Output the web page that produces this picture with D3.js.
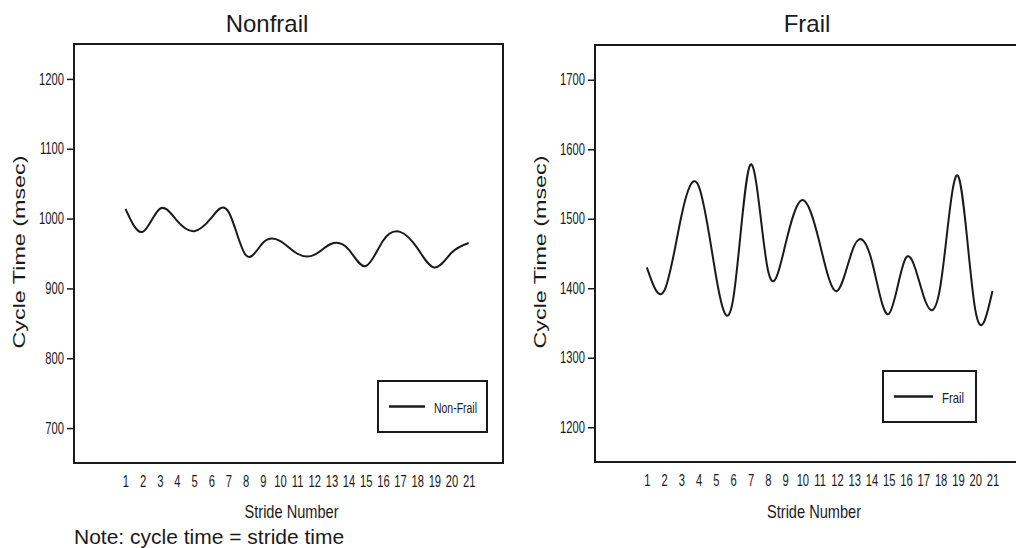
<!DOCTYPE html>
<html>
<head>
<meta charset="utf-8">
<script src="https://cdn.jsdelivr.net/npm/d3@7"></script>
<style>
  body { margin: 0; background: #fff; }
  svg { display: block; }
  text { font-family: "Liberation Sans", Arial, sans-serif; }
</style>
</head>
<body>
<svg id="chart" width="1016" height="548"></svg>
<script>
// stride numbers on the x axis
var strides = [1, 2, 3, 4, 5, 6, 7, 8, 9, 10, 11, 12, 13, 14, 15, 16, 17, 18, 19, 20, 21];

// cycle time (msec)
var nonfrailTimes = [1014, 981, 1014, 997, 982, 1001, 1010, 948, 965, 968, 950, 948, 964, 956, 932, 968, 981, 958, 930, 951, 965];
var frailTimes = [1430, 1396, 1504, 1547, 1418, 1385, 1578, 1427, 1461, 1527, 1465, 1396, 1461, 1441, 1363, 1444, 1390, 1405, 1562, 1370, 1396];

var nonfrailTicks = [700, 800, 900, 1000, 1100, 1200];
var frailTicks = [1200, 1300, 1400, 1500, 1600, 1700];

var svg = d3.select("#chart");
var ink = "#1a1a1a";
var squeeze = 0.7; // the tick labels are set in a narrow face

function narrowText(sel) {
    // fake a condensed font: scale x, keep the anchor point where it was
    sel.each(function () {
        var t = d3.select(this);
        var x = +t.attr("x") || 0;
        t.attr("x", x / squeeze).attr("transform", "scale(" + squeeze + ",1)");
    });
}

function panel(opts) {
    var g = svg.append("g");

    var x = d3.scaleLinear().domain([-2, 23]).range([opts.left, opts.left + opts.width]);
    var y = d3.scaleLinear().domain(opts.yDomain).range([opts.bottom, opts.top]);

    // frame
    g.append("rect")
        .attr("x", opts.left).attr("y", opts.top)
        .attr("width", opts.width).attr("height", opts.bottom - opts.top)
        .attr("fill", "none").attr("stroke", ink).attr("stroke-width", 2);

    // y axis
    var ya = g.append("g")
        .attr("transform", "translate(" + opts.left + ",0)")
        .call(d3.axisLeft(y).tickValues(opts.ticks).tickSize(7).tickPadding(3).tickFormat(d3.format("d")));
    ya.select(".domain").remove();
    ya.selectAll("line").attr("stroke", ink).attr("stroke-width", 1.5);
    ya.selectAll("text").attr("font-size", 16).attr("font-family", null).attr("fill", ink).call(narrowText);

    // x axis, labels only
    var xa = g.append("g")
        .attr("transform", "translate(0," + opts.bottom + ")")
        .call(d3.axisBottom(x).tickValues(strides).tickSize(0).tickPadding(13));
    xa.select(".domain").remove();
    xa.selectAll("text").attr("font-size", 16).attr("font-family", null).attr("fill", ink).call(narrowText);

    // the curve
    var line = d3.line()
        .x(function (d, i) { return x(strides[i]); })
        .y(function (d) { return y(d); })
        .curve(d3.curveNatural);
    g.append("path")
        .datum(opts.values)
        .attr("d", line)
        .attr("fill", "none").attr("stroke", ink).attr("stroke-width", 2);

    // title
    g.append("text")
        .attr("x", opts.titleX).attr("y", 32)
        .attr("text-anchor", "middle")
        .attr("font-size", 24)
        .attr("fill", ink)
        .text(opts.title);

    // x label
    g.append("text")
        .attr("x", opts.left + opts.width / 2 + 3).attr("y", 518)
        .attr("text-anchor", "middle")
        .attr("font-size", 19)
        .attr("textLength", 94)
        .attr("lengthAdjust", "spacingAndGlyphs")
        .attr("fill", ink)
        .text("Stride Number");

    // y label
    g.append("text")
        .attr("transform", "translate(" + opts.yLabelX + ",252)rotate(-90)")
        .attr("text-anchor", "middle")
        .attr("font-size", 17)
        .attr("textLength", 193)
        .attr("lengthAdjust", "spacingAndGlyphs")
        .attr("fill", ink)
        .text("Cycle Time (msec)");

    // legend
    var lg = opts.legend;
    g.append("rect")
        .attr("x", lg.x).attr("y", lg.y).attr("width", lg.w).attr("height", lg.h)
        .attr("fill", "#fff").attr("stroke", ink).attr("stroke-width", 2);
    g.append("line")
        .attr("x1", lg.x + 11).attr("x2", lg.x + 11 + lg.line)
        .attr("y1", lg.y + lg.h / 2).attr("y2", lg.y + lg.h / 2)
        .attr("stroke", ink).attr("stroke-width", 2.5);
    g.append("text")
        .attr("x", lg.x + 11 + lg.line + 9).attr("y", lg.y + lg.h / 2 + 6)
        .attr("font-size", 15)
        .attr("textLength", lg.textW)
        .attr("lengthAdjust", "spacingAndGlyphs")
        .attr("fill", ink)
        .text(lg.label);
}

panel({
    left: 74, width: 429, top: 44, bottom: 463,
    yDomain: [650, 1250], ticks: nonfrailTicks,
    values: nonfrailTimes, title: "Nonfrail", titleX: 267, yLabelX: 24.5,
    legend: { x: 378, y: 381, w: 109, h: 51, line: 36, label: "Non-Frail", textW: 43 }
});

panel({
    left: 595, width: 432, top: 45, bottom: 462,
    yDomain: [1150, 1750], ticks: frailTicks,
    values: frailTimes, title: "Frail", titleX: 807, yLabelX: 546,
    legend: { x: 883, y: 371, w: 93, h: 51, line: 39, label: "Frail", textW: 22 }
});

// footnote
svg.append("text")
    .attr("x", 74).attr("y", 544)
    .attr("font-size", 21)
    .attr("fill", ink)
    .text("Note: cycle time = stride time");
</script>
</body>
</html>
